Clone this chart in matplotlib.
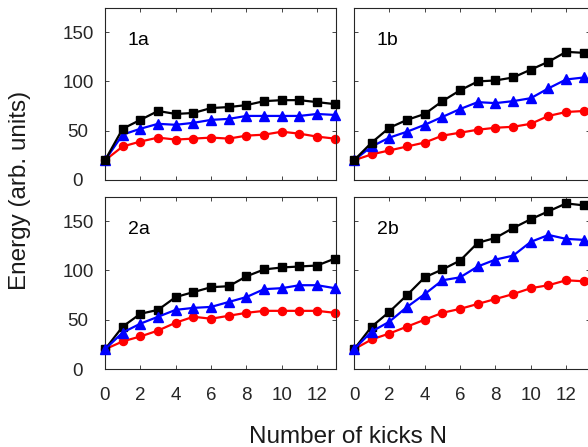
import matplotlib
matplotlib.use('Agg')
import matplotlib.pyplot as plt

# ================================================================================== #
' Data '

kicks = list(range(14))

black_1a = [20, 52, 61, 70, 67, 68, 73, 74, 76, 80, 81, 81, 79, 77]
blue_1a = [20, 46, 52, 57, 56, 58, 61, 62, 65, 65, 65, 65, 67, 66]
red_1a = [20, 34, 39, 43, 41, 42, 43, 42, 45, 46, 49, 47, 44, 42]

black_1b = [20, 38, 53, 61, 67, 80, 91, 100, 101, 104, 112, 120, 130, 129]
blue_1b = [20, 34, 43, 49, 56, 64, 72, 79, 78, 80, 83, 93, 102, 104]
red_1b = [20, 26, 30, 34, 38, 45, 48, 51, 53, 54, 57, 65, 69, 70]

black_2a = [20, 43, 56, 60, 73, 78, 83, 84, 94, 101, 103, 104, 105, 112]
blue_2a = [20, 37, 46, 53, 60, 62, 63, 68, 73, 81, 82, 85, 85, 82]
red_2a = [20, 28, 33, 39, 47, 53, 51, 54, 57, 59, 59, 59, 59, 57]

black_2b = [20, 43, 58, 75, 93, 101, 110, 128, 133, 143, 152, 160, 168, 166]
blue_2b = [20, 38, 48, 63, 76, 90, 93, 104, 111, 115, 129, 136, 132, 131]
red_2b = [20, 30, 36, 43, 50, 57, 61, 66, 71, 76, 82, 85, 90, 89]

panel_names = ['1a', '1b', '2a', '2b']
xtick_vals = [0, 2, 4, 6, 8, 10, 12]
ytick_vals = [0, 50, 100, 150]

# ================================================================================== #
' Plotting '

plt.rcParams['font.family'] = ['Liberation Sans', 'DejaVu Sans']
fig = plt.figure(figsize=(5.88, 4.47), dpi=100)
W, H = 588.0, 447.0

# axes boxes in pixels: left, top, right, bottom
boxes = [(105, 8, 336, 180), (354, 8, 590, 180),
         (105, 197, 336, 369), (354, 197, 590, 369)]
data = [(black_1a, blue_1a, red_1a), (black_1b, blue_1b, red_1b),
        (black_2a, blue_2a, red_2a), (black_2b, blue_2b, red_2b)]
blue_on_top = [False, False, True, True]
gray = '#262626'

for i, (l, t, r, b) in enumerate(boxes):
  ax = fig.add_axes([l / W, 1 - b / H, (r - l) / W, (b - t) / H])
  blk, blu, red = data[i]
  zb, zk = (4, 3) if blue_on_top[i] else (3, 4)
  ax.plot(kicks, red, '-o', color='red', lw=1.6, ms=5.8, zorder=2, clip_on=False)
  ax.plot(kicks, blu, '-^', color='blue', lw=1.6, ms=6.8, zorder=zb, clip_on=False)
  ax.plot(kicks, blk, '-s', color='black', lw=1.6, ms=5.2, zorder=zk, clip_on=False)
  ax.set_xlim(0, (r - l) / 17.68)
  ax.set_ylim(0, 174.5)
  ax.set_xticks(xtick_vals)
  ax.set_yticks(ytick_vals)
  ax.tick_params(direction='in', top=True, right=True, length=3, width=0.6,
                 colors=gray, labelsize=13.5)
  ax.tick_params(axis='x', pad=13)
  ax.tick_params(axis='y', pad=19.5)
  for lab in ax.get_yticklabels():
    lab.set_horizontalalignment('center')
  for s in ax.spines.values():
    s.set_color(gray)
    s.set_linewidth(0.8)
  if i < 2:
    ax.set_xticklabels([])
  if i % 2 == 1:
    ax.set_yticklabels([])
  ax.text(1.3, 142, panel_names[i], fontsize=14, va='center', ha='left')

fig.text(20 / W, 1 - 190 / H, 'Energy (arb. units)', rotation=90,
         fontsize=17.5, va='center', ha='center', color='#1a1a1a')
fig.text(348 / W, 1 - 437 / H, 'Number of kicks N', fontsize=17.5,
         va='center', ha='center', color='#1a1a1a')

fig.savefig('out.png', dpi=100)
